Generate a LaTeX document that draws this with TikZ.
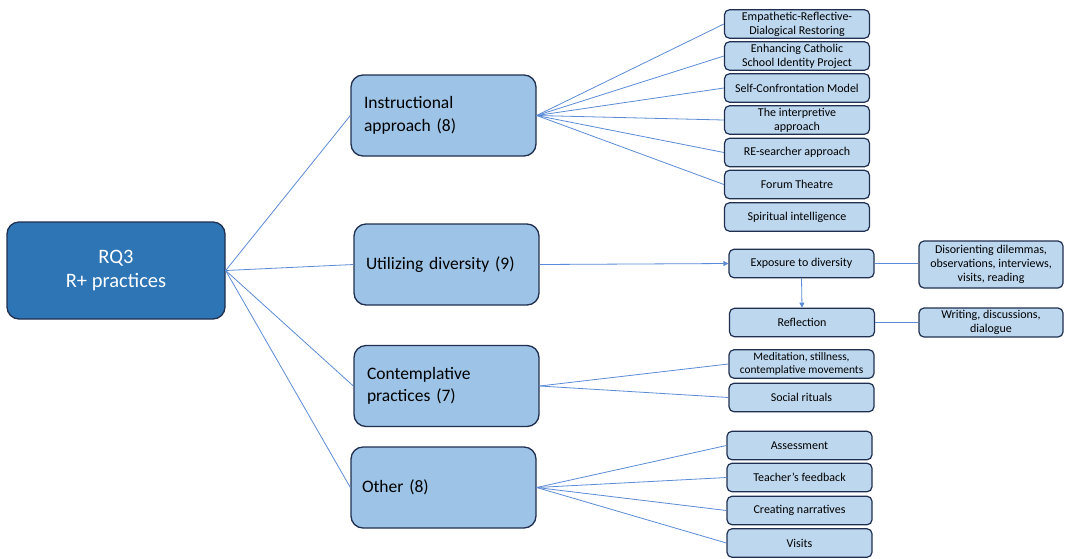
\documentclass[tikz,border=0pt]{standalone}
\usepackage{fontspec}
\setmainfont{Carlito}
\usetikzlibrary{arrows.meta}
\definecolor{navy}{HTML}{1F2F4F}
\definecolor{dark}{HTML}{2E75B6}
\definecolor{mid}{HTML}{9DC3E6}
\definecolor{light}{HTML}{BDD7EE}
\definecolor{conn}{HTML}{5B8BD6}
\tikzset{
  rootbox/.style={draw=navy, line width=1.3pt, fill=dark, rounded corners=12pt, text=white, font=\fontsize{20.5}{24}\selectfont, align=center, inner sep=0pt},
  midbox/.style={draw=navy, line width=1.3pt, fill=mid, rounded corners=12pt, font=\fontsize{17.5}{22.5}\selectfont, align=left, inner xsep=13pt, inner ysep=0pt, minimum height=81pt},
  leafbox/.style={draw=navy, line width=1.2pt, fill=light, rounded corners=5pt, font=\fontsize{12}{14}\selectfont, align=center, inner sep=0pt, minimum width=145pt, minimum height=28.5pt},
  link/.style={draw=conn, line width=0.8pt},
  arr/.style={draw=conn, line width=0.8pt, -{Triangle[length=5pt,width=5pt]}}
}
\begin{document}
\begin{tikzpicture}[x=1pt,y=-1pt]
\useasboundingbox (0,0) rectangle (1065,558);
% root
\node[rootbox, minimum width=218pt, minimum height=97pt] (rq) at (116,270.5) {RQ3\\R+ practices};
% mid level
\node[midbox, text width=159pt] (ins) at (443.5,115.5) {Instructional\\approach (8)};
\node[midbox, text width=161pt, inner xsep=12pt] (uti) at (446.5,264.5) {Utilizing diversity (9)};
\node[midbox, text width=159pt] (con) at (446.5,386) {Contemplative\\practices (7)};
\node[midbox, text width=163pt, inner xsep=11pt] (oth) at (443.5,487.5) {Other (8)};
% instructional leaves
\node[leafbox] (l1) at (797,24) {Empathetic-Reflective-\\Dialogical Restoring};
\node[leafbox] (l2) at (797,56) {Enhancing Catholic\\School Identity Project};
\node[leafbox] (l3) at (797,88) {Self-Confrontation Model};
\node[leafbox] (l4) at (797,120) {The interpretive\\approach};
\node[leafbox] (l5) at (797,152.5) {RE-searcher approach};
\node[leafbox] (l6) at (797,184.5) {Forum Theatre};
\node[leafbox] (l7) at (797,217) {Spiritual intelligence};
% diversity
\node[leafbox] (exp) at (801.5,263.5) {Exposure to diversity};
\node[leafbox] (ref) at (802,322.5) {Reflection};
\node[leafbox, minimum width=144pt, minimum height=47pt] (dis) at (991,264.5) {Disorienting dilemmas,\\observations, interviews,\\visits, reading};
\node[leafbox, minimum width=144pt, minimum height=29pt] (wri) at (991,322.5) {Writing, discussions,\\dialogue};
% contemplative
\node[leafbox, font=\fontsize{11.4}{13}\selectfont] (med) at (801.5,364) {Meditation, stillness,\\contemplative movements};
\node[leafbox] (soc) at (801.5,397.5) {Social rituals};
% other
\node[leafbox] (as) at (799.5,445.5) {Assessment};
\node[leafbox] (tf) at (799.5,477.5) {Teacher’s feedback};
\node[leafbox] (cn) at (799.5,510.5) {Creating narratives};
\node[leafbox] (vi) at (799.5,543) {Visits};
% connectors
\foreach \n in {ins,uti,con,oth} \draw[link] (rq.east) -- (\n.west);
\foreach \n in {l1,l2,l3,l4,l5,l6} \draw[link] (ins.east) -- (\n.west);
\draw[arr] (uti.east) -- (exp.west);
\draw[arr] (exp.south) -- (ref.north);
\draw[link] (exp.east) -- (dis.west |- exp.east);
\draw[link] (ref.east) -- (wri.west |- ref.east);
\foreach \n in {med,soc} \draw[link] (con.east) -- (\n.west);
\foreach \n in {as,tf,cn,vi} \draw[link] (oth.east) -- (\n.west);
\end{tikzpicture}
\end{document}
